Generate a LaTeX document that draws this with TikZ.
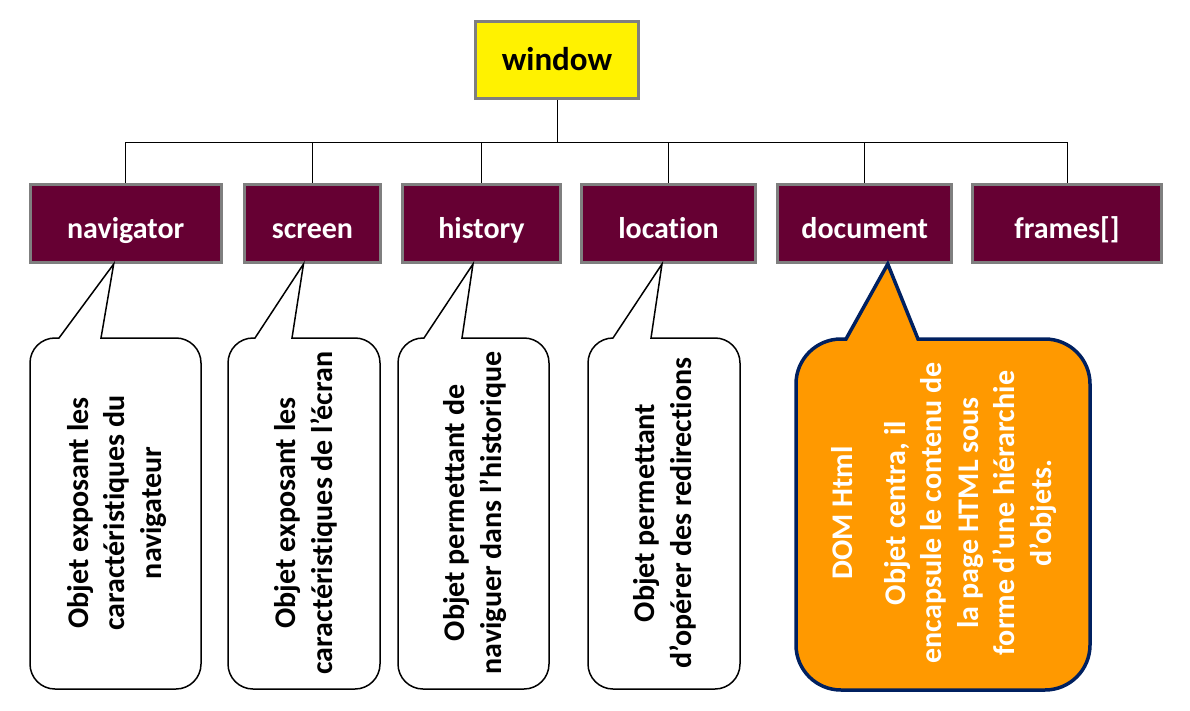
\documentclass[tikz,border=0pt]{standalone}
\usepackage{fontspec}
\setmainfont{Carlito}[Ligatures=NoCommon]
\definecolor{boxred}{HTML}{660033}
\definecolor{boxgray}{HTML}{7F7F7F}
\definecolor{bubbleorange}{HTML}{FF9900}
\definecolor{bubblenavy}{HTML}{002060}
\tikzset{
  obj/.style={rectangle, draw=boxgray, line width=3pt, fill=boxred, text=white,
    font=\bfseries\fontsize{30}{36}\selectfont, minimum height=78pt, inner sep=0pt,
    text height=32pt, text depth=2pt},
  bubble/.style={draw=black, line width=1.5pt, fill=white},
  bubbletxt/.style={rotate=90, align=center, font=\bfseries\fontsize{30}{36.6}\selectfont},
}
\begin{document}
\begin{tikzpicture}[x=1pt,y=-1pt]
\useasboundingbox (0,0) rectangle (1190,711);
% objets
\node[obj, fill=yellow, text=black, minimum width=163pt, minimum height=77pt,
  text height=24pt, text depth=2pt, font=\bfseries\fontsize{33}{39}\selectfont] (win) at (557,60){window};
\node[obj, minimum width=191pt] (nav) at (125.7,223.5){navigator};
\node[obj, minimum width=136pt] (scr) at (312.5,223.5){screen};
\node[obj, minimum width=158pt] (hist) at (481.5,223.5){history};
\node[obj, minimum width=174pt] (loc) at (668.5,223.5){location};
\node[obj, minimum width=174pt] (doc) at (864.75,223.5){document};
\node[obj, minimum width=189pt] (fra) at (1067,223.5){frames[]};
% arbre
\coordinate (bus) at (557,142);
\draw[line width=0.8pt] (win.south) -- (bus);
\foreach \n in {nav,scr,hist,loc,doc,fra}
  \draw[line width=0.8pt] (bus) -| (\n.north);
% bulles
\draw[bubble] (30,500) [rounded corners=25pt] -- (30,338) [sharp corners] -- (59,338)
  -- ([xshift=-12pt]nav.south) -- (101,338) -- (150,338) [rounded corners=25pt]
  -- (201,338) -- (201,689) -- (30,689) -- cycle;
\draw[bubble] (228,500) [rounded corners=25pt] -- (228,338) [sharp corners] -- (255,338)
  -- ([xshift=-9pt]scr.south) -- (292,338) -- (330,338) [rounded corners=25pt]
  -- (380,338) -- (380,689) -- (228,689) -- cycle;
\draw[bubble] (398,500) [rounded corners=25pt] -- (398,338) [sharp corners] -- (424,338)
  -- ([xshift=-8.5pt]hist.south) -- (462,338) -- (500,338) [rounded corners=25pt]
  -- (549,338) -- (549,689) -- (398,689) -- cycle;
\draw[bubble] (588,500) [rounded corners=25pt] -- (588,338) [sharp corners] -- (613,338)
  -- ([xshift=-6.5pt]loc.south) -- (651,338) -- (690,338) [rounded corners=25pt]
  -- (740,338) -- (740,689) -- (588,689) -- cycle;
\draw[bubble, draw=bubblenavy, fill=bubbleorange, line width=3.5pt]
  (796,500) [rounded corners=45pt] -- (796,339) [sharp corners] -- (846,339)
  -- ([xshift=23pt]doc.south) -- (918,339) -- (1000,339) [rounded corners=45pt]
  -- (1090,339) -- (1090,690) -- (796,690) -- cycle;
\node[bubbletxt] (navtxt) at (117,513){Objet exposant les\\caractéristiques du\\navigateur};
\node[bubbletxt] (scrtxt) at (306,513){Objet exposant les\\caractéristiques de l’écran};
\node[bubbletxt] (histtxt) at (475,513){Objet permettant de\\naviguer dans l’historique};
\node[bubbletxt] (loctxt) at (665,513){Objet permettant\\d’opérer des redirections};
\node[bubbletxt, text=white] (doctxt) at (944,513){DOM Html\\[16pt]Objet centra, il\\encapsule le contenu de\\la page HTML sous\\forme d’une hiérarchie\\d’objets.};
\end{tikzpicture}
\end{document}
